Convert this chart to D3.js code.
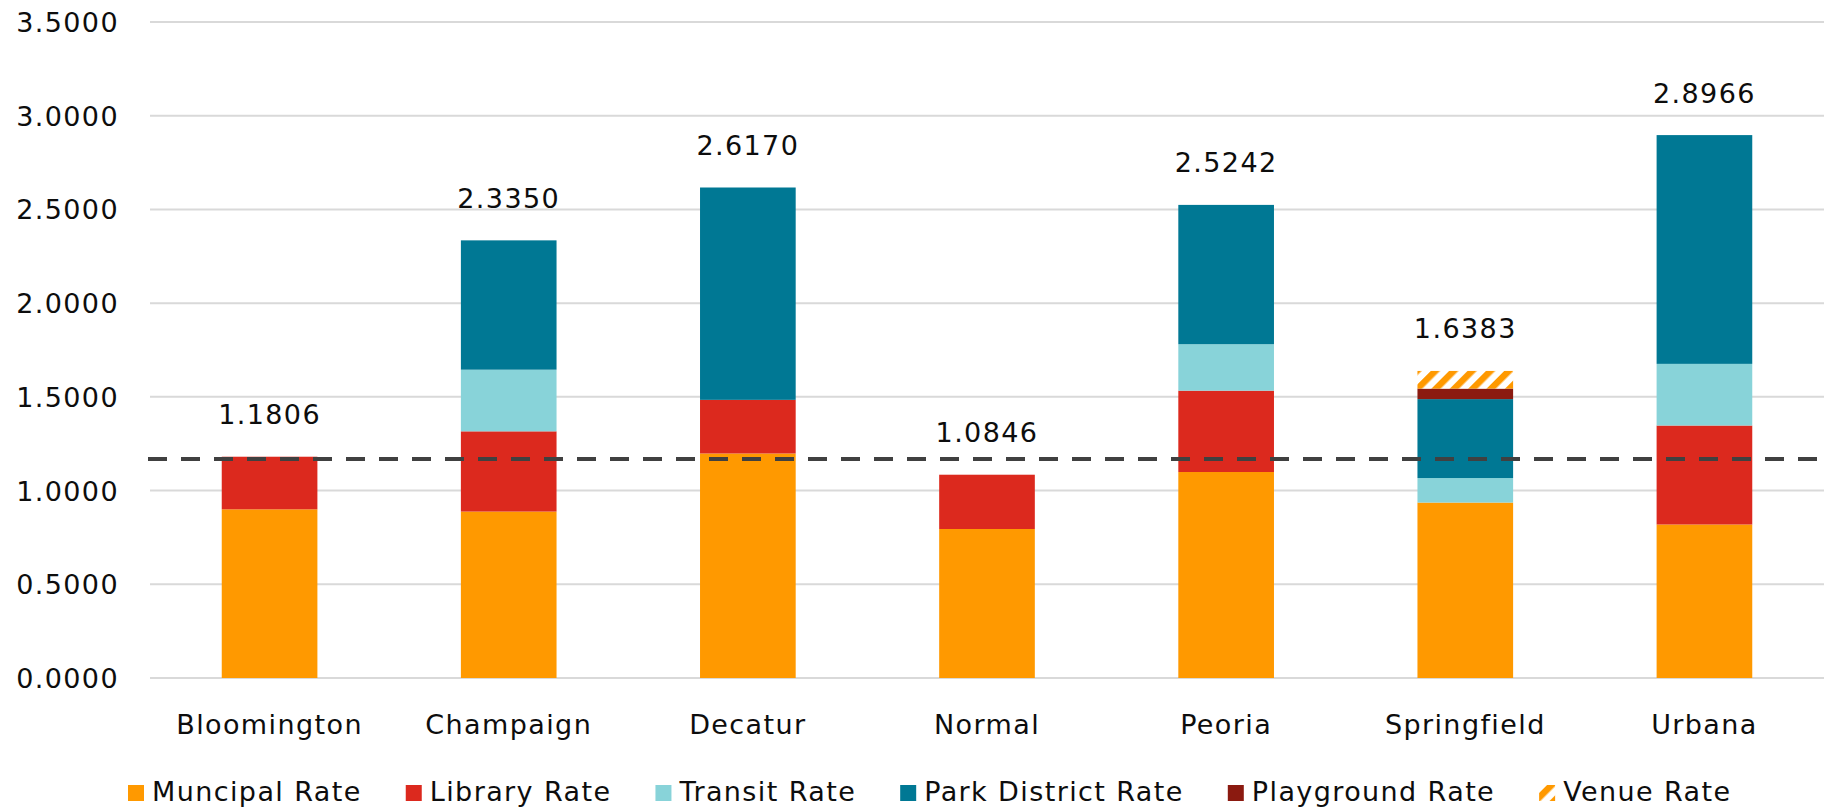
<!DOCTYPE html>
<html lang="en">
<head>
  <meta charset="UTF-8">
  <title>Property Tax Rates</title>
  <script src="https://d3js.org/d3.v7.min.js"></script>
  <style>
    body { margin: 0; background: #fff; }
    svg text { font-family: "DejaVu Sans", sans-serif; font-size: 27px; letter-spacing: 1.4px; fill: #0d0d0d; }
  </style>
</head>
<body>
  <svg width="1824" height="808"></svg>
  <script>
    // chart data
    const categories = ["Bloomington", "Champaign", "Decatur", "Normal", "Peoria", "Springfield", "Urbana"];
    const seriesNames = ["Muncipal Rate", "Library Rate", "Transit Rate", "Park District Rate", "Playground Rate", "Venue Rate"];
    const municipal  = [0.900, 0.888, 1.198, 0.795, 1.099, 0.936, 0.819];
    const library    = [0.2806, 0.428, 0.286, 0.2896, 0.434, 0, 0.528];
    const transit    = [0, 0.329, 0, 0, 0.248, 0.131, 0.329];
    const park       = [0, 0.690, 1.133, 0, 0.7432, 0.421, 1.2206];
    const playground = [0, 0, 0, 0, 0, 0.056, 0];
    const venue      = [0, 0, 0, 0, 0, 0.0943, 0];
    const totalLabels = ["1.1806", "2.3350", "2.6170", "1.0846", "2.5242", "1.6383", "2.8966"];
    const yTicks = [0, 0.5, 1, 1.5, 2, 2.5, 3, 3.5];
    const benchmark = 1.168;

    const colors = ["#ff9900", "#dc291e", "#88d3d9", "#007894", "#8b1a10", "url(#venueHatch)"];

    const svg = d3.select("svg");
    const plotLeft = 150, plotRight = 1824, plotTop = 22, plotBottom = 678;

    const rows = categories.map((c, i) => ({
      city: c,
      "Muncipal Rate": municipal[i],
      "Library Rate": library[i],
      "Transit Rate": transit[i],
      "Park District Rate": park[i],
      "Playground Rate": playground[i],
      "Venue Rate": venue[i]
    }));
    const stacked = d3.stack().keys(seriesNames)(rows);

    const x = d3.scaleBand()
      .domain(categories)
      .range([plotLeft, plotRight])
      .paddingInner(0.6)
      .paddingOuter(0.3);

    const y = d3.scaleLinear()
      .domain([0, 3.5])
      .range([plotBottom, plotTop]);

    // hatch pattern for venue rate
    const defs = svg.append("defs");
    const pat = defs.append("pattern")
      .attr("id", "venueHatch")
      .attr("patternUnits", "userSpaceOnUse")
      .attr("width", 13).attr("height", 13)
      .attr("patternTransform", "rotate(45)");
    pat.append("rect").attr("width", 13).attr("height", 13).attr("fill", "#fff");
    pat.append("rect").attr("width", 6.5).attr("height", 13).attr("fill", "#ff9900");

    // gridlines
    svg.append("g")
      .selectAll("line")
      .data(yTicks)
      .join("line")
      .attr("x1", plotLeft).attr("x2", plotRight)
      .attr("y1", d => y(d)).attr("y2", d => y(d))
      .attr("stroke", "#d9d9d9")
      .attr("stroke-width", 2);

    // y axis labels
    const yAxis = svg.append("g")
      .attr("transform", `translate(${plotLeft - 31}, 0)`)
      .call(d3.axisLeft(y).tickValues(yTicks).tickFormat(d3.format(".4f")).tickSize(0).tickPadding(0));
    yAxis.select(".domain").remove();
    yAxis.attr("font-size", null).attr("font-family", null);
    yAxis.selectAll("text").attr("dy", "0.35em");

    // bars
    svg.append("g")
      .selectAll("g")
      .data(stacked)
      .join("g")
      .attr("fill", (d, i) => colors[i])
      .selectAll("rect")
      .data(d => d.filter(s => s[1] - s[0] > 0))
      .join("rect")
      .attr("x", d => x(d.data.city))
      .attr("y", d => y(d[1]))
      .attr("width", x.bandwidth())
      .attr("height", d => y(d[0]) - y(d[1]));

    // total labels
    svg.append("g")
      .selectAll("text")
      .data(categories)
      .join("text")
      .attr("x", d => x(d) + x.bandwidth() / 2)
      .attr("y", (d, i) => y(+totalLabels[i]) - 40)
      .attr("text-anchor", "middle")
      .attr("dominant-baseline", "middle")
      .text((d, i) => totalLabels[i]);

    // benchmark dashed line
    svg.append("line")
      .attr("x1", plotLeft - 2).attr("x2", plotRight)
      .attr("y1", y(benchmark)).attr("y2", y(benchmark))
      .attr("stroke", "#404040")
      .attr("stroke-width", 4)
      .attr("stroke-dasharray", "19 14");

    // x axis labels
    const xAxis = svg.append("g")
      .attr("transform", `translate(0, ${plotBottom})`)
      .call(d3.axisBottom(x).tickSize(0).tickPadding(0));
    xAxis.select(".domain").remove();
    xAxis.attr("font-size", null).attr("font-family", null);
    xAxis.selectAll("text").attr("y", 47).attr("dy", "0.35em");

    // legend
    const legend = svg.append("g").attr("transform", "translate(128, 793)");
    let lx = 0;
    seriesNames.forEach((name, i) => {
      const item = legend.append("g").attr("transform", `translate(${lx}, 0)`);
      item.append("rect")
        .attr("x", 0).attr("y", -8)
        .attr("width", 16).attr("height", 16)
        .attr("fill", colors[i]);
      const t = item.append("text")
        .attr("x", 24).attr("y", 0)
        .attr("dominant-baseline", "middle")
        .text(name);
      lx += 24 + t.node().getComputedTextLength() + 44;
    });
  </script>
</body>
</html>
